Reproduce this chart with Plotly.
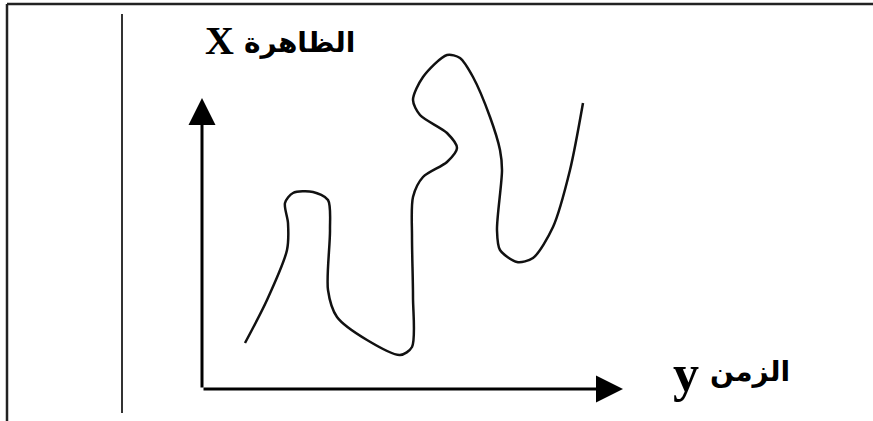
import plotly.graph_objects as go

# Schematic curve (units: offset from the axes origin)
curve_x = [43, 65, 85, 86, 83, 91, 111, 126, 128, 126, 135, 165, 198, 210, 211, 210, 211,
           221, 245, 255, 245, 218, 211, 221, 245, 258, 271, 288, 298, 300, 295, 298, 315,
           331, 351, 368, 381]
curve_y = [46, 89, 139, 166, 186, 196, 197, 189, 159, 99, 72, 49, 34, 42, 92, 152, 192,
           212, 227, 241, 256, 274, 289, 312, 334, 331, 312, 272, 239, 219, 159, 139, 127,
           131, 162, 219, 286]

# Axis extents
x_axis_end = 421
y_axis_end = 291

# Labels
y_symbol = "X"
y_word = "الظاهرة"
x_symbol = "y"
x_word = "الزمن"

fig = go.Figure()
fig.add_trace(go.Scatter(x=curve_x, y=curve_y, mode="lines",
                         line=dict(color="#111111", width=2.5, shape="spline", smoothing=0.8),
                         hoverinfo="skip"))

# Axes with arrows
fig.add_annotation(x=x_axis_end, y=0, ax=0, ay=0, axref="x", ayref="y", xref="x", yref="y",
                   text="", showarrow=True, arrowhead=2, arrowwidth=3, arrowsize=1.8,
                   arrowcolor="#000000", standoff=0)
fig.add_annotation(x=0, y=y_axis_end, ax=0, ay=0, axref="x", ayref="y", xref="x", yref="y",
                   text="", showarrow=True, arrowhead=2, arrowwidth=3, arrowsize=1.8,
                   arrowcolor="#000000", standoff=0)

latin = dict(family="Liberation Serif, serif", size=40, color="#000000", weight="bold")
latin_y = dict(family="Liberation Serif, serif", size=52, color="#000000", weight="bold")
arabic = dict(family="DejaVu Sans, sans-serif", size=28, color="#000000", weight="bold")
fig.add_annotation(x=17, y=349, xref="x", yref="y", text=y_symbol, showarrow=False, font=latin)
fig.add_annotation(x=97, y=347, xref="x", yref="y", text=y_word, showarrow=False, font=arabic)
fig.add_annotation(x=484, y=16, xref="x", yref="y", text=x_symbol, showarrow=False, font=latin_y)
fig.add_annotation(x=548, y=18, xref="x", yref="y", text=x_word, showarrow=False, font=arabic)

# Frame lines
fig.add_shape(type="line", x0=-195, x1=671, y0=385, y1=385, xref="x", yref="y",
              line=dict(color="#222222", width=2.5))
fig.add_shape(type="line", x0=-195, x1=-195, y0=385, y1=-32, xref="x", yref="y",
              line=dict(color="#222222", width=2.5))
fig.add_shape(type="line", x0=-80, x1=-80, y0=375, y1=-24, xref="x", yref="y",
              line=dict(color="#333333", width=2))

fig.update_xaxes(range=[-202, 671], visible=False)
fig.update_yaxes(range=[-32, 389], visible=False)
fig.update_layout(width=873, height=421, margin=dict(l=0, r=0, t=0, b=0),
                  plot_bgcolor="white", paper_bgcolor="white", showlegend=False)

fig.write_html("out.html", config={"displayModeBar": False},
               post_script="document.body.style.margin='0';")
